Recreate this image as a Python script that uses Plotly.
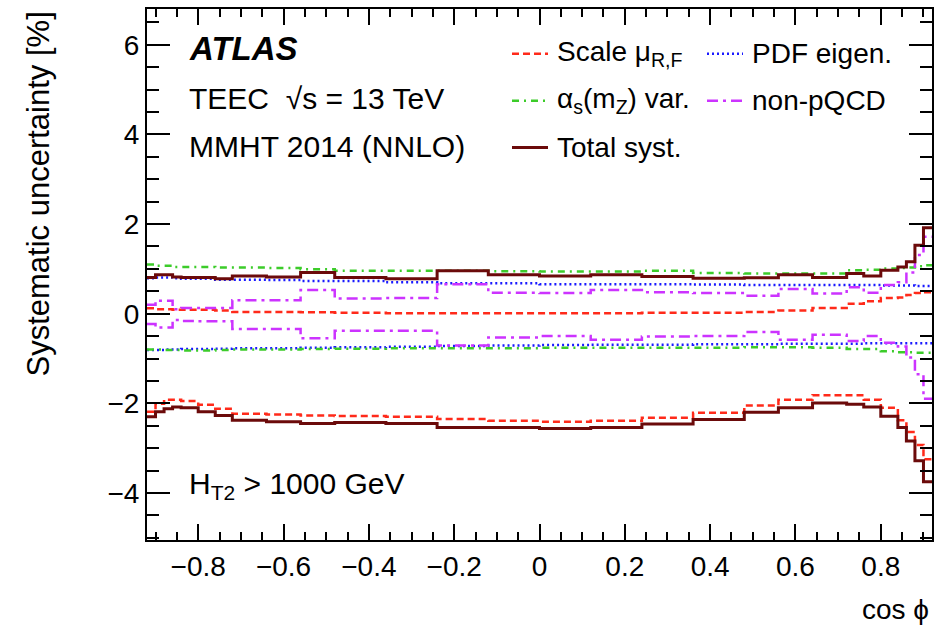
import plotly.graph_objects as go

# Bin edges in cos(phi)
edges = [-0.92, -0.90, -0.88, -0.86, -0.84, -0.80, -0.76, -0.72, -0.64, -0.56,
         -0.48, -0.36, -0.24, -0.12, 0.0, 0.12, 0.24, 0.36, 0.48, 0.56,
         0.64, 0.72, 0.76, 0.80, 0.84, 0.86, 0.88, 0.90, 0.92]

# Relative systematic uncertainties [%] per bin
scale_up = [0.12, 0.10, 0.10, 0.09, 0.09, 0.09, 0.07, 0.04, 0.04, 0.03,
            0.02, 0.01, 0.01, 0.01, 0.01, 0.01, 0.02, 0.02, 0.04, 0.07,
            0.13, 0.22, 0.28, 0.35, 0.36, 0.42, 0.46, 0.48]
scale_down = [-2.19, -2.01, -1.92, -1.92, -1.95, -2.03, -2.12, -2.23, -2.25, -2.27,
              -2.28, -2.30, -2.35, -2.39, -2.41, -2.39, -2.32, -2.21, -2.05, -1.92,
              -1.82, -1.82, -1.92, -2.10, -2.38, -2.64, -2.93, -3.25]
pdf_up = [0.79, 0.81, 0.81, 0.79, 0.78, 0.78, 0.76, 0.76, 0.75, 0.73,
          0.73, 0.70, 0.68, 0.68, 0.66, 0.66, 0.66, 0.65, 0.64, 0.64,
          0.64, 0.64, 0.64, 0.63, 0.63, 0.63, 0.62, 0.62]
pdf_down = [-0.81, -0.81, -0.80, -0.80, -0.79, -0.79, -0.78, -0.77, -0.77, -0.76,
            -0.75, -0.74, -0.72, -0.71, -0.70, -0.69, -0.69, -0.68, -0.68, -0.67,
            -0.67, -0.67, -0.66, -0.66, -0.66, -0.66, -0.66, -0.66]
alphas_up = [1.10, 1.07, 1.07, 1.04, 1.04, 1.04, 1.03, 1.03, 1.02, 0.99,
             0.96, 0.96, 0.96, 0.95, 0.94, 0.94, 0.96, 0.91, 0.90, 0.90,
             0.90, 0.97, 0.98, 1.01, 1.02, 1.03, 1.06, 1.08]
alphas_down = [-0.80, -0.80, -0.81, -0.81, -0.82, -0.82, -0.81, -0.80, -0.80, -0.79,
               -0.78, -0.77, -0.77, -0.77, -0.76, -0.76, -0.76, -0.76, -0.75, -0.75,
               -0.76, -0.79, -0.79, -0.84, -0.86, -0.86, -0.87, -0.87]
npqcd_up = [0.20, 0.29, 0.29, 0.10, 0.13, 0.13, 0.13, 0.30, 0.30, 0.53,
            0.34, 0.35, 0.66, 0.47, 0.46, 0.53, 0.48, 0.46, 0.40, 0.55,
            0.45, 0.59, 0.47, 0.64, 0.70, 0.92, 1.31, 1.72]
npqcd_down = [-0.23, -0.31, -0.31, -0.14, -0.16, -0.17, -0.17, -0.34, -0.34, -0.55,
              -0.38, -0.38, -0.71, -0.53, -0.50, -0.58, -0.51, -0.50, -0.41, -0.58,
              -0.47, -0.61, -0.50, -0.65, -0.73, -0.98, -1.35, -1.90]
total_up = [0.81, 0.87, 0.87, 0.82, 0.81, 0.81, 0.78, 0.84, 0.82, 0.92,
            0.81, 0.78, 0.96, 0.87, 0.84, 0.87, 0.83, 0.79, 0.80, 0.87,
            0.81, 0.90, 0.84, 0.97, 1.04, 1.16, 1.53, 1.92]
total_down = [-2.30, -2.19, -2.12, -2.08, -2.10, -2.19, -2.27, -2.38, -2.41, -2.45,
              -2.43, -2.45, -2.54, -2.54, -2.56, -2.54, -2.46, -2.36, -2.20, -2.10,
              -1.99, -2.02, -2.08, -2.29, -2.54, -2.84, -3.28, -3.75]

x_tickvals = [-0.8, -0.6, -0.4, -0.2, 0, 0.2, 0.4, 0.6, 0.8]
x_ticktext = ["−0.8", "−0.6", "−0.4", "−0.2", "0", "0.2", "0.4", "0.6", "0.8"]

FONT = "Liberation Sans, Arial, Helvetica, sans-serif"
W, H = 951, 629
L, R, T, B = 147, 19, 7, 89

RED = "#ff2a1a"
BLUE = "#1a1aff"
GREEN = "#3ccc2a"
PURPLE = "#cc33ff"
MAROON = "#6b0a0a"

styles = {
    "scale": dict(color=RED, width=2.5, dash="7px,4px"),
    "pdf": dict(color=BLUE, width=2.5, dash="2px,3px"),
    "alphas": dict(color=GREEN, width=2.5, dash="7px,5px,2px,5px"),
    "npqcd": dict(color=PURPLE, width=2.5, dash="11px,5px,3px,5px"),
    "total": dict(color=MAROON, width=3),
}

curves = [
    ("scale", scale_up), ("scale", scale_down),
    ("pdf", pdf_up), ("pdf", pdf_down),
    ("alphas", alphas_up), ("alphas", alphas_down),
    ("npqcd", npqcd_up), ("npqcd", npqcd_down),
    ("total", total_up), ("total", total_down),
]

fig = go.Figure()
for key, vals in curves:
    fig.add_trace(go.Scatter(
        x=edges, y=list(vals) + [vals[-1]],
        mode="lines", line_shape="hv",
        line=styles[key], showlegend=False, hoverinfo="skip",
    ))


def px(xp):
    return (xp - L) / (W - L - R)


def py(yp):
    return (H - B - yp) / (H - T - B)


annotations = []


def text(x, y, s, size=28, xanchor="left", **kw):
    annotations.append(dict(
        x=px(x), y=py(y), xref="paper", yref="paper", text=s,
        showarrow=False, xanchor=xanchor, yanchor="middle",
        font=dict(family=FONT, size=size, color="black"), **kw))


text(187, 47, "<b><i>ATLAS</i></b>", size=33)
text(187, 97, "TEEC  √s = 13 TeV", size=30)
text(187, 145, "MMHT 2014 (NNLO)", size=30)
text(187, 485, "H<sub>T2</sub> > 1000 GeV", size=30)

# Legend entries: (style, label, sample x-start, row y)
legend = [
    ("scale", "Scale μ<sub>R,F</sub>", 512, 52),
    ("pdf", "PDF eigen.", 707, 52),
    ("alphas", "α<sub>s</sub>(m<sub>Z</sub>) var.", 512, 99),
    ("npqcd", "non-pQCD", 707, 99),
    ("total", "Total syst.", 512, 146),
]
shapes = []
for key, label, x0, y0 in legend:
    st = styles[key]
    shapes.append(dict(
        type="line", xref="paper", yref="paper",
        x0=px(x0), x1=px(x0 + 36), y0=py(y0), y1=py(y0),
        line=dict(color=st["color"], width=st["width"], dash=st.get("dash", "solid"))))
    text(x0 + 43, y0, label)

# Axis titles
annotations.append(dict(
    x=px(38), y=py(8), xref="paper", yref="paper",
    text="Systematic uncertainty [%]", textangle=-90, showarrow=False,
    xanchor="center", yanchor="top",
    font=dict(family=FONT, size=31, color="black")))
annotations.append(dict(
    x=px(931), y=py(610), xref="paper", yref="paper",
    text="cos ϕ", showarrow=False, xanchor="right", yanchor="middle",
    font=dict(family=FONT, size=28, color="black")))

axis_common = dict(
    showgrid=False, zeroline=False, showline=True, linecolor="black",
    linewidth=2, mirror="allticks", ticks="inside", tickcolor="black",
    tickwidth=1.5, tickfont=dict(family=FONT, size=28, color="black"),
)

fig.update_layout(
    width=W, height=H,
    margin=dict(l=L, r=R, t=T, b=B),
    paper_bgcolor="white", plot_bgcolor="white",
    xaxis=dict(range=[-0.92, 0.92], tickmode="array",
               tickvals=x_tickvals, ticktext=x_ticktext, ticklen=16,
               minor=dict(ticks="inside", ticklen=8, dtick=0.05, tick0=0,
                          tickcolor="black", tickwidth=1.5),
               **axis_common),
    yaxis=dict(range=[-5.05, 6.8], tickmode="linear", tick0=0, dtick=2,
               ticklen=23,
               minor=dict(ticks="inside", ticklen=12, dtick=0.5, tick0=0,
                          tickcolor="black", tickwidth=1.5),
               **axis_common),
    annotations=annotations,
    shapes=shapes,
)

fig.write_html("out.html")
